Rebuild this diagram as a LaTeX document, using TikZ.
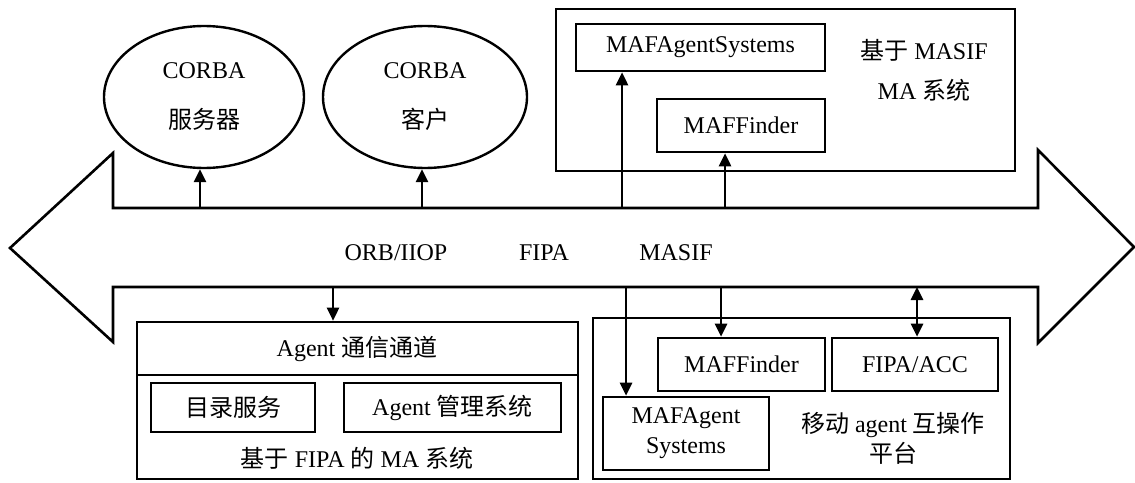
\documentclass[tikz,border=0pt]{standalone}
\usepackage{fontspec}
\setmainfont{Liberation Serif}
\newfontfamily\cjk{Noto Sans CJK SC}
\usetikzlibrary{arrows.meta,shapes.geometric}
\begin{document}
\begin{tikzpicture}[x=0.5pt,y=-0.5pt,
  every node/.style={font=\fontsize{12pt}{15pt}\selectfont},
  ln/.style={line width=1.3pt},
  box/.style={draw,line width=1.3pt,inner sep=0pt,align=center},
  oval/.style={draw,ellipse,line width=1.2pt,inner sep=0pt,align=center},
  lbl/.style={align=center,inner sep=0pt},
  conn/.style={line width=1.3pt,-{Triangle[width=6pt,length=6.5pt]}},
  dconn/.style={line width=1.3pt,{Triangle[width=6pt,length=6.5pt]}-{Triangle[width=6pt,length=6.5pt]}}]
\useasboundingbox (0,0) rectangle (1135,482);

% big double arrow (bus)
\draw[ln,line join=miter] (10,248) -- (113,153) -- (113,208) -- (1038,208) -- (1038,150)
  -- (1134,247) -- (1038,343) -- (1038,287) -- (113,287) -- (113,342) -- cycle;
\node[lbl] (orb) at (396,253) {ORB/IIOP};
\node[lbl] (fipa) at (544,253) {FIPA};
\node[lbl] (masif) at (676,253) {MASIF};

% top left ellipses
\node[oval,minimum width=100pt,minimum height=71pt,font=\fontsize{12pt}{25pt}\selectfont] (e1) at (204,97) {CORBA\\{\cjk 服务器}};
\node[oval,minimum width=102pt,minimum height=71pt,font=\fontsize{12pt}{25pt}\selectfont] (e2) at (425,97) {CORBA\\{\cjk 客户}};

% top right MASIF system
\node[box,minimum width=229.5pt,minimum height=81pt] (tr) at (785.5,90) {};
\node[box,minimum width=124.5pt,minimum height=23.5pt] (mafas1) at (700.5,47.5) {MAFAgentSystems};
\node[box,minimum width=84pt,minimum height=26.5pt] (maff1) at (741,125.5) {MAFFinder};
\node[lbl,font=\fontsize{12pt}{20pt}\selectfont] (trl) at (924,70) {{\cjk 基于} MASIF\\MA {\cjk 系统}};

% bottom left FIPA system
\node[box,minimum width=220.5pt,minimum height=78.5pt] (bl) at (357.5,400.5) {};
\draw[ln] (137,375) -- (578,375);
\node[lbl] (chan) at (357,349) {Agent {\cjk 通信通道}};
\node[box,minimum width=82pt,minimum height=24.5pt] (dir) at (233,407.5) {{\cjk 目录服务}};
\node[box,minimum width=108.5pt,minimum height=24.5pt] (ams) at (452.5,407.5) {Agent {\cjk 管理系统}};
\node[lbl] (bll) at (357,458) {{\cjk 基于} FIPA {\cjk 的} MA {\cjk 系统}};

% bottom right interoperability platform
\node[box,minimum width=208.5pt,minimum height=80.5pt] (br) at (801.5,398.5) {};
\node[box,minimum width=83.5pt,minimum height=26.5pt] (maff2) at (741.5,364.5) {MAFFinder};
\node[box,minimum width=83pt,minimum height=26.5pt] (acc) at (915,364.5) {FIPA/ACC};
\node[box,minimum width=83pt,minimum height=36.5pt] (mafas2) at (686,433.5) {MAFAgent\\Systems};
\node[lbl] (brl) at (893,438) {{\cjk 移动} agent {\cjk 互操作}\\{\cjk 平台}};

% bus tap points
\coordinate (u1) at (200,208);
\coordinate (u2) at (422,208);
\coordinate (u3) at (622,208);
\coordinate (u4) at (725,208);
\coordinate (d1) at (333,287);
\coordinate (d2) at (626,287);
\coordinate (d3) at (721,287);
\coordinate (d4) at (917,287);

% connectors
\draw[conn] (u1) -- (u1 |- e1.south);
\draw[conn] (u2) -- (u2 |- e2.south);
\draw[conn] (u3) -- (u3 |- mafas1.south);
\draw[conn] (u4) -- (u4 |- maff1.south);
\draw[conn] (d1) -- (d1 |- bl.north);
\draw[conn] (d2) -- (d2 |- mafas2.north);
\draw[conn] (d3) -- (d3 |- maff2.north);
\draw[dconn] (d4) -- (d4 |- acc.north);
\end{tikzpicture}
\end{document}
